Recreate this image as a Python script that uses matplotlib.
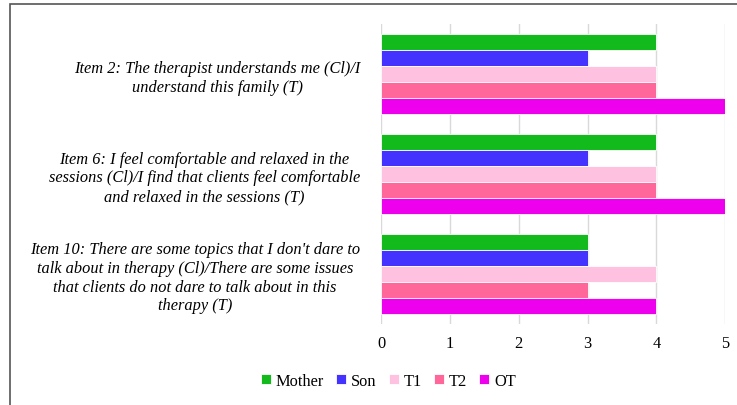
import numpy as np
import matplotlib.pyplot as plt
from matplotlib.patches import Rectangle

# items (top to bottom) and ratings per respondent
items = [
    "Item 2: The therapist understands me (Cl)/I\nunderstand this family (T)",
    "Item 6: I feel comfortable and relaxed in the\nsessions (Cl)/I find that clients feel comfortable\nand relaxed in the sessions (T)",
    "Item 10: There are some topics that I don't dare to\ntalk about in therapy (Cl)/There are some issues\nthat clients do not dare to talk about in this\ntherapy (T)",
]
series = ["Mother", "Son", "T1", "T2", "OT"]
mother = [4, 4, 3]
son = [3, 3, 3]
t1 = [4, 4, 4]
t2 = [4, 4, 3]
ot = [5, 5, 4]
colors = ["#13BA1B", "#4433FF", "#FFC1E0", "#FF6699", "#EE00EE"]

values = [mother, son, t1, t2, ot]

plt.rcParams['font.family'] = ['Liberation Serif', 'DejaVu Serif']

fig = plt.figure(figsize=(7.37, 4.06), dpi=100)
ax = fig.add_axes([0.517, 0.2, 0.467, 0.738])

bar_h = 0.16
pos = np.arange(len(items))
for i, (name, vals) in enumerate(zip(series, values)):
    offset = -0.32 + i * bar_h
    ax.barh(pos + offset, vals, height=bar_h, color=colors[i],
            edgecolor="white", linewidth=0.6, label=name, zorder=3)

ax.set_xlim(0, 5)
ax.set_ylim(2.5, -0.5)
ax.set_xticks(range(6))
ax.set_yticks(pos)
ax.set_yticklabels(items, fontstyle="italic", fontsize=11.8, linespacing=1.22,
                   multialignment="center")
ax.tick_params(axis="both", length=0, labelsize=11.8)
ax.tick_params(axis="y", pad=15)
ax.tick_params(axis="x", pad=8)
ax.xaxis.grid(True, color="#D9D9D9", linewidth=1, zorder=0)
for s in ax.spines.values():
    s.set_visible(False)

fig.legend(loc="center", bbox_to_anchor=(0.527, 0.06), ncol=5, frameon=False,
           fontsize=11.8, handlelength=0.6, handleheight=0.6, handletextpad=0.3,
           columnspacing=0.75)

# outer frame around the chart
fig.patches.append(Rectangle((0.014, -0.1), 1.2, 1.088, transform=fig.transFigure,
                             fill=False, edgecolor="#555555", linewidth=1.2))

fig.savefig("out.png", dpi=100)
